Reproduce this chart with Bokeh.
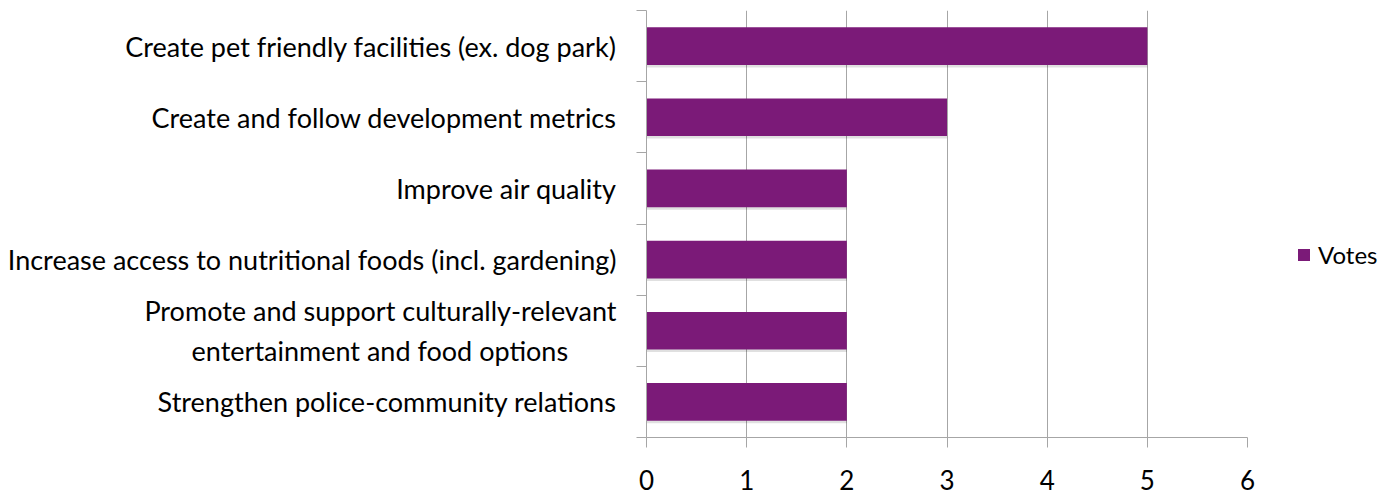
from bokeh.plotting import figure
from bokeh.layouts import row
from bokeh.models import Range1d, FixedTicker, Legend, LegendItem, ColumnDataSource
from bokeh.embed import file_html
from bokeh.resources import INLINE

# ---- data (top to bottom as shown) ----
categories = [
    "Create pet friendly facilities (ex. dog park)",
    "Create and follow development metrics",
    "Improve air quality",
    "Increase access to nutritional foods (incl. gardening)",
    "Promote and support culturally-relevant\nentertainment and food options",
    "Strengthen police-community relations",
]
votes = [5, 3, 2, 2, 2, 2]
x_ticks = [0, 1, 2, 3, 4, 5, 6]
series_name = "Votes"

# ---- styles ----
FONT = "Lato"
BAR = "#7B1A78"
GRID = "#A6A6A6"
NBSP_PAD = 7  # visually centres the second line of a wrapped label


def wrap_label(text):
    lines = text.split("\n")
    if len(lines) == 1:
        return text
    return lines[0] + "\n" + lines[1] + "\u00a0" * NBSP_PAD


n = len(categories)
ypos = [n - i - 0.5 for i in range(n)]
src = ColumnDataSource(dict(y=ypos, v=votes))
shadow = ColumnDataSource(dict(y=[y - 0.035 for y in ypos], v=votes))

p = figure(width=1267, height=500, output_backend="svg", toolbar_location=None,
           x_range=Range1d(x_ticks[0], x_ticks[-1]), y_range=Range1d(0, n),
           min_border_left=646, min_border_right=20, min_border_top=10, min_border_bottom=63)
p.outline_line_color = None
p.background_fill_color = "white"
p.border_fill_color = "white"

p.hbar(y="y", right="v", left=0, height=0.53, source=shadow, fill_color="black",
       fill_alpha=0.12, line_color=None)
r = p.hbar(y="y", right="v", left=0, height=0.53, source=src, fill_color=BAR, line_color=None)

# x axis
p.xaxis.ticker = FixedTicker(ticks=x_ticks)
p.xaxis.axis_line_color = GRID
p.xaxis.major_tick_line_color = GRID
p.xaxis.major_tick_out = 10
p.xaxis.major_tick_in = 0
p.xaxis.minor_tick_line_color = None
p.xaxis.major_label_text_font = FONT
p.xaxis.major_label_text_font_size = "26px"
p.xaxis.major_label_text_color = "black"
p.xaxis.major_label_standoff = 22
p.xgrid.ticker = FixedTicker(ticks=x_ticks)
p.xgrid.grid_line_color = GRID
p.ygrid.grid_line_color = None

# y axis: labels at category centres, ticks at category boundaries
p.yaxis.ticker = FixedTicker(ticks=ypos, minor_ticks=list(range(n + 1)))
p.yaxis.major_label_overrides = {float(y): wrap_label(c) for y, c in zip(ypos, categories)}
p.yaxis.axis_line_color = GRID
p.yaxis.major_tick_line_color = None
p.yaxis.major_tick_out = 0
p.yaxis.major_tick_in = 0
p.yaxis.minor_tick_line_color = GRID
p.yaxis.minor_tick_out = 10
p.yaxis.minor_tick_in = 0
p.yaxis.major_label_text_font = FONT
p.yaxis.major_label_text_font_size = "27px"
p.yaxis.major_label_text_color = "black"
p.yaxis.major_label_standoff = 20

# legend panel: a second figure to the right holding the series legend
# (its ranges lie outside the data so only the legend is visible)
p2 = figure(width=126, height=500, output_backend="svg", toolbar_location=None,
            x_axis_type=None, y_axis_type=None,
            x_range=Range1d(-20, -10), y_range=Range1d(-20, -10),
            min_border_left=0, min_border_right=0, min_border_top=0, min_border_bottom=0)
p2.outline_line_color = None
p2.grid.grid_line_color = None
p2.border_fill_color = "white"
p2.background_fill_color = "white"
r2 = p2.hbar(y="y", right="v", left=0, height=0.53, source=src, fill_color=BAR, line_color=None)
legend = Legend(items=[LegendItem(label=series_name, renderers=[r2])],
                location=(29, 168), padding=0, margin=0, glyph_width=15, glyph_height=15,
                label_text_font=FONT, label_text_font_size="24px", label_standoff=7,
                label_text_color="black",
                border_line_color=None, background_fill_alpha=0, label_height=15)
p2.add_layout(legend)

open("out.html", "w").write(file_html(row(p, p2), INLINE))
